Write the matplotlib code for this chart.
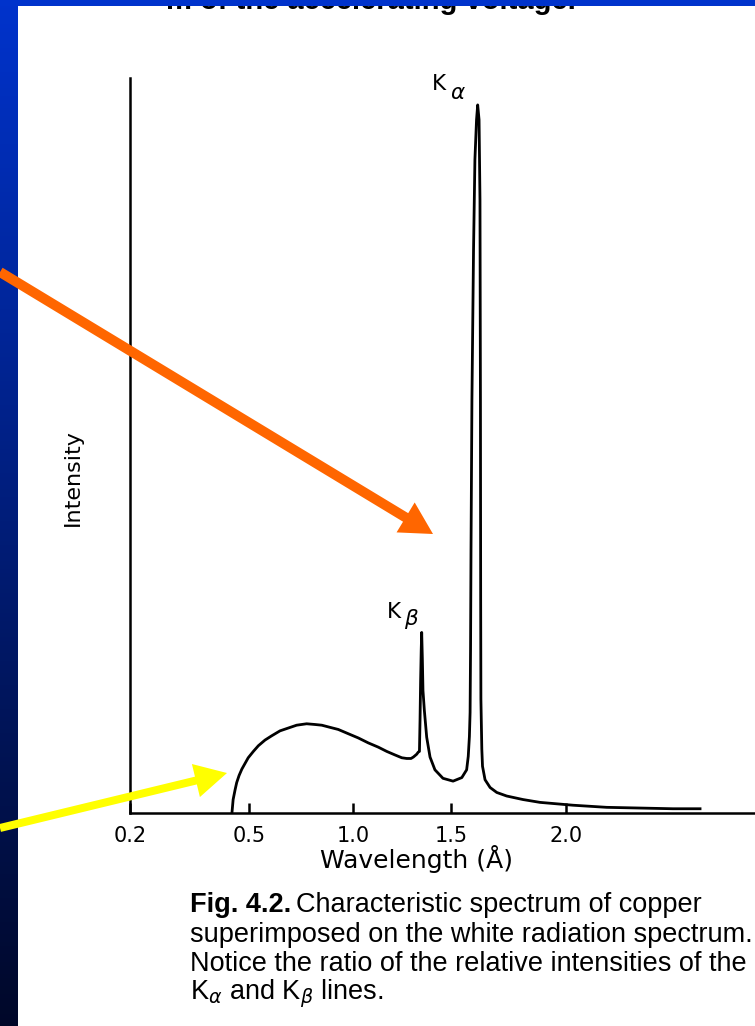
import numpy as np
import matplotlib
matplotlib.use('Agg')
import matplotlib.pyplot as plt
from matplotlib.patches import FancyArrow, Rectangle

# Cu spectrum: wavelength (Å) and intensity (K-alpha peak = 100)
wavelength = [0.457, 0.460, 0.465, 0.469, 0.475, 0.482, 0.490, 0.498, 0.521, 0.545,
              0.577, 0.609, 0.649, 0.689, 0.729, 0.777, 0.817, 0.850, 0.889, 0.929,
              0.977, 1.027, 1.078, 1.129, 1.172, 1.214, 1.249, 1.274, 1.296, 1.308,
              1.325, 1.333, 1.339,
              1.342, 1.345, 1.348, 1.3505, 1.354, 1.357, 1.364, 1.376, 1.393,
              1.418, 1.459, 1.509, 1.547, 1.568, 1.575, 1.580, 1.583, 1.585,
              1.587, 1.591, 1.598, 1.604, 1.611, 1.616, 1.622, 1.626, 1.628,
              1.629, 1.630, 1.634, 1.637, 1.648, 1.670, 1.699, 1.742, 1.813,
              1.887, 2.030, 2.177, 2.322, 2.465, 2.583]
intensity = [0.0, 1.9, 3.3, 4.3, 5.3, 6.2, 7.0, 7.8, 8.7, 9.5,
             10.3, 10.9, 11.6, 12.0, 12.4, 12.6, 12.5, 12.4, 12.1, 11.8,
             11.2, 10.6, 9.9, 9.3, 8.7, 8.2, 7.8, 7.7, 7.7, 7.9,
             8.3, 8.6, 8.7,
             13.1, 18.7, 23.0, 25.5, 21.6, 17.3, 14.5, 10.7, 7.9,
             6.1, 4.9, 4.5, 5.0, 6.1, 8.0, 10.8, 14.2, 23.1,
             37.2, 58.4, 79.6, 92.3, 97.9, 100.0, 97.9, 86.6, 58.4,
             30.2, 16.1, 9.0, 6.6, 4.7, 3.6, 2.9, 2.4, 1.9,
             1.5, 1.1, 0.8, 0.7, 0.6, 0.6]

tick_values = [0.2, 0.5, 1.0, 1.5, 2.0]
tick_labels = ['0.2', '0.5', '1.0', '1.5', '2.0']

# the printed axis is hand drawn: uneven tick spacing, 0.2 sits at the origin
axis_wl = [-1.0, 0.2, 0.5, 1.0, 1.5, 2.0, 2.822, 4.0]
axis_pos = [-476, 0, 119, 223, 321, 436, 625, 896]


def fwd(x):
    return np.interp(x, axis_wl, axis_pos)


def inv(p):
    return np.interp(p, axis_pos, axis_wl)


fig = plt.figure(figsize=(7.55, 10.26), dpi=100)
fig.patch.set_facecolor('white')

ax = fig.add_axes([130 / 755, 213 / 1026, 625 / 755, 735 / 1026])
ax.set_xscale('function', functions=(fwd, inv))
ax.plot(wavelength, intensity, color='black', lw=2.0, solid_joinstyle='round')
ax.set_xlim(0.2, 2.822)
ax.set_ylim(0, 103.8)

for s in ['top', 'right']:
    ax.spines[s].set_visible(False)
for s in ['left', 'bottom']:
    ax.spines[s].set_linewidth(1.8)
ax.set_yticks([])
ax.set_xticks(tick_values)
ax.set_xticklabels(tick_labels)
ax.xaxis.set_minor_locator(matplotlib.ticker.NullLocator())
ax.tick_params(axis='x', direction='in', length=7.5, width=1.8, pad=9, labelsize=15)

ax.set_xlabel('Wavelength (Å)', fontsize=18)
ax.xaxis.set_label_coords((416 - 130) / 625, (813 - 845) / 735)
ax.set_ylabel('Intensity', fontsize=16)
ax.yaxis.set_label_coords((83 - 130) / 625, (813 - 478) / 735)

# decorations in pixel coordinates of the slide
deco = fig.add_axes([0, 0, 1, 1], zorder=5)
deco.set_xlim(0, 755)
deco.set_ylim(1026, 0)
deco.axis('off')
deco.patch.set_alpha(0)

grad = np.linspace(0, 1, 256)[:, None, None]
top_c = np.array([0.0, 0.20, 0.80])
bot_c = np.array([0.0, 0.03, 0.16])
deco.imshow(top_c * (1 - grad) + bot_c * grad, extent=[0, 18, 1026, 0], aspect='auto', zorder=1)

deco.text(166, 9, 'm of the accelerating voltage.', fontsize=21, fontweight='bold',
          family='Liberation Sans', va='baseline', ha='left', zorder=3)
deco.add_patch(Rectangle((0, 0), 755, 6, color='#0033cc', lw=0, zorder=4))

# peak labels
deco.text(432, 90, 'K', fontsize=15.5, va='baseline', ha='left')
deco.text(450, 99, 'α', fontsize=15.5, style='italic', va='baseline', ha='left')
deco.text(387, 618, 'K', fontsize=15.5, va='baseline', ha='left')
deco.text(404, 625, 'β', fontsize=15.5, style='italic', va='baseline', ha='left')

# arrows
deco.add_patch(FancyArrow(0, 272, 433, 262, width=10, head_width=35, head_length=32,
                          length_includes_head=True, color='#ff6600', lw=0, zorder=6))
deco.add_patch(FancyArrow(0, 828, 227, -55, width=8, head_width=34, head_length=32,
                          length_includes_head=True, color='#ffff00', lw=0, zorder=6))

# caption
cap = dict(fontsize=19.5, family='Liberation Sans', va='baseline', ha='left', color='black')
deco.text(190, 912, 'Fig. 4.2.', fontweight='bold', **cap)
deco.text(296, 912, 'Characteristic spectrum of copper', **cap)
deco.text(190, 942, 'superimposed on the white radiation spectrum.', **cap)
deco.text(190, 971, 'Notice the ratio of the relative intensities of the', **cap)
deco.text(190, 1000, r'K$_\alpha$ and K$_\beta$ lines.', **cap)

fig.savefig('out.png', dpi=100)
